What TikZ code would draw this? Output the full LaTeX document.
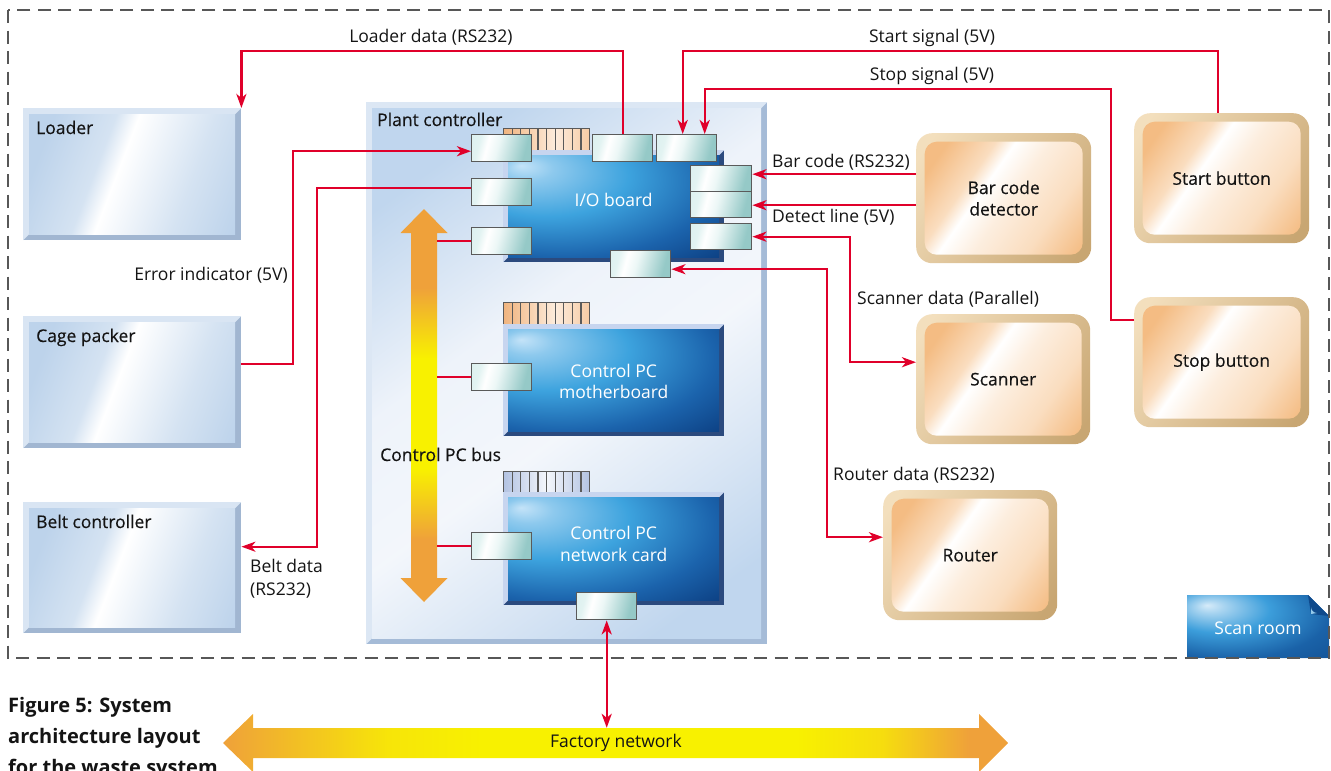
\documentclass[tikz,border=0pt]{standalone}
\usepackage{fontspec}
\setmainfont{Open Sans}
\newfontfamily\medfont[FakeBold=0.35]{Open Sans}
\usetikzlibrary{arrows.meta,calc}

\definecolor{sigred}{HTML}{E0002A}
\definecolor{rimgray}{HTML}{5A5A5A}
\definecolor{dashgray}{HTML}{575757}
\definecolor{inkblack}{HTML}{141414}
% light blue device boxes
\definecolor{bxLight}{HTML}{D9E5F3}
\definecolor{bxDark}{HTML}{A1B6D1}
\definecolor{bxA}{HTML}{BDD3EB}
\definecolor{bxB}{HTML}{D5E3F2}
% plant controller
\definecolor{pcLight}{HTML}{DCE7F4}
\definecolor{pcDark}{HTML}{A5BBD7}
\definecolor{pcA}{HTML}{C0D6EE}
\definecolor{pcB}{HTML}{EEF3FA}
% boards
\definecolor{brLight}{HTML}{C7D5EF}
\definecolor{brDark}{HTML}{2B4A7E}
\definecolor{brA}{HTML}{C4E3F8}
\definecolor{brB}{HTML}{3DA3DE}
\definecolor{brC}{HTML}{1B63AC}
\definecolor{brD}{HTML}{0A3A7C}
% tan units
\definecolor{tanA}{HTML}{F3DFBD}
\definecolor{tanB}{HTML}{C8A672}
\definecolor{orA}{HTML}{F4BC83}
\definecolor{orB}{HTML}{FADDBF}
% ports and connector combs
\definecolor{ptA}{HTML}{D0EBE9}
\definecolor{ptB}{HTML}{95C9C7}
\definecolor{cmA}{HTML}{F0B47F}
\definecolor{cmB}{HTML}{FDECDC}
\definecolor{cgA}{HTML}{B3C3E2}
\definecolor{cgB}{HTML}{F4F6FB}
% bus arrows
\definecolor{busOr}{HTML}{EFA13A}
\definecolor{busYe}{HTML}{F8F100}
% scan room tag
\definecolor{scA}{HTML}{D6EBF9}
\definecolor{scB}{HTML}{3C9EDB}
\definecolor{scC}{HTML}{1A62A8}
\definecolor{scD}{HTML}{0F4A8C}

\pgfdeclarehorizontalshading{glossblue}{100bp}{color(0bp)=(bxA); color(24bp)=(bxA); color(40bp)=(bxB); color(46bp)=(white); color(52bp)=(white!70!bxB); color(66bp)=(bxB); color(82bp)=(bxA); color(100bp)=(bxA)}
\pgfdeclarehorizontalshading{glosspc}{100bp}{color(0bp)=(pcA); color(24bp)=(pcA); color(42bp)=(pcB); color(55bp)=(pcB!70!white); color(68bp)=(pcB!50!pcA); color(78bp)=(pcA); color(100bp)=(pcA)}
\pgfdeclarehorizontalshading{glosstan}{100bp}{color(0bp)=(orA); color(22bp)=(orA); color(36bp)=(orB); color(42bp)=(white); color(52bp)=(orB!50!white); color(68bp)=(orB); color(84bp)=(orA); color(100bp)=(orA)}
\pgfdeclarehorizontalshading{tanframe}{100bp}{color(0bp)=(tanA); color(20bp)=(tanA); color(80bp)=(tanB); color(100bp)=(tanB)}
\pgfdeclarehorizontalshading{glossport}{100bp}{color(0bp)=(ptA); color(28bp)=(ptA!60!white); color(36bp)=(white); color(46bp)=(ptA!40!white); color(72bp)=(ptB); color(100bp)=(ptB)}
\pgfdeclarehorizontalshading{combor}{100bp}{color(0bp)=(cmA); color(25bp)=(cmA); color(55bp)=(cmB); color(75bp)=(cmA!60!cmB); color(100bp)=(cmA!60!cmB)}
\pgfdeclarehorizontalshading{combgr}{100bp}{color(0bp)=(cgA); color(25bp)=(cgA); color(50bp)=(cgB); color(75bp)=(cgA); color(100bp)=(cgA)}
\pgfdeclareverticalshading{busv}{100bp}{color(0bp)=(busOr); color(33bp)=(busOr); color(42bp)=(busYe); color(56bp)=(busYe); color(65bp)=(busOr); color(100bp)=(busOr)}
\pgfdeclarehorizontalshading{factoryh}{100bp}{color(0bp)=(busOr); color(25bp)=(busOr); color(30bp)=(busOr!60!busYe); color(35.5bp)=(busYe!85!busOr); color(41.5bp)=(busYe); color(61.5bp)=(busYe); color(67bp)=(busYe!75!busOr); color(72.5bp)=(busOr); color(100bp)=(busOr)}
\pgfdeclareradialshading{boardrad}{\pgfpoint{-22bp}{20bp}}{color(0bp)=(brA); color(6bp)=(brA!60!brB); color(20bp)=(brB); color(36bp)=(brC); color(50bp)=(brD); color(80bp)=(brD)}
\pgfdeclareradialshading{scanrad}{\pgfpoint{-18bp}{17bp}}{color(0bp)=(scA); color(5bp)=(scA!70!scB); color(18bp)=(scB); color(35bp)=(scC); color(55bp)=(scD); color(80bp)=(scD)}

\begin{document}
\begin{tikzpicture}[x=1pt, y=-1pt,
  >={Stealth[length=14pt, width=10pt, inset=4pt]},
  lbl/.style={font=\fontsize{17.5}{21}\selectfont, inner sep=0pt, text=inkblack},
  ttl/.style={font=\medfont\fontsize{17.5}{21}\selectfont, inner sep=0pt, text=inkblack},
  capt/.style={font=\bfseries\fontsize{20}{22}\selectfont, text=inkblack, inner sep=0pt, anchor=base west},
  sig/.style={draw=sigred, line width=2.4pt},
  bevel/.style n args={5}{rectangle, inner sep=0pt, anchor=north west,
    path picture={
      \coordinate (bbSW) at (path picture bounding box.south west);
      \coordinate (bbNE) at (path picture bounding box.north east);
      \coordinate (bbNW) at (path picture bounding box.north west);
      \fill[#2] (bbSW) rectangle (bbNE);
      \fill[#1] (bbSW) -- (bbNW) -- (bbNE) -- ([shift={(-#3,-#3)}]bbNE)
        -- ([shift={(#3,-#3)}]bbNW) -- ([shift={(#3,#3)}]bbSW) -- cycle;
      \shade[shading=#4, shading angle=#5] ([shift={(#3,#3)}]bbSW) rectangle ([shift={(-#3,-#3)}]bbNE);
    }},
  devbox/.style={bevel={bxLight}{bxDark}{6pt}{glossblue}{-21}, minimum width=218pt, minimum height=132pt},
  board/.style={bevel={brLight}{brDark}{5pt}{boardrad}{0}, minimum width=221pt, minimum height=112pt},
  boardtext/.style={text=white, font=\fontsize{17.5}{21.5}\selectfont, align=center, inner sep=0pt},
  port/.style={rectangle, inner sep=0pt, anchor=north west, minimum width=60pt, minimum height=27pt,
    shade, shading=glossport, shading angle=-15, draw=rimgray, line width=1.4pt},
  comb/.style={rectangle, inner sep=0pt, anchor=north west, minimum width=86pt, minimum height=22pt,
    shade, shading=#1, draw=rimgray, line width=1.2pt,
    path picture={
      \coordinate (bbSW) at (path picture bounding box.south west);
      \coordinate (bbSE) at (path picture bounding box.south east);
      \coordinate (bbNW) at (path picture bounding box.north west);
      \coordinate (bbNE) at (path picture bounding box.north east);
      \foreach \k in {1,...,9}{\draw[rimgray, line width=1.2pt] ($(bbSW)!\k/10!(bbSE)$) -- ($(bbNW)!\k/10!(bbNE)$);}
    }},
  unit/.style={rectangle, rounded corners=16pt, inner sep=0pt, anchor=north west,
    minimum width=174pt, minimum height=130pt, shade, shading=tanframe, shading angle=-35,
    font=\medfont\fontsize{17.5}{21.5}\selectfont, text=inkblack, align=center,
    path picture={
      \coordinate (bbSW) at (path picture bounding box.south west);
      \coordinate (bbNE) at (path picture bounding box.north east);
      \shade[shading=glosstan, shading angle=-35, rounded corners=12pt]
        ([shift={(8.5pt,8.5pt)}]bbSW) rectangle ([shift={(-8.5pt,-8.5pt)}]bbNE);
    }},
]
\useasboundingbox (0,0) rectangle (1331,771);

% ---------- equipment on the left ----------
\node[devbox] (loader) at (23,108) {};
\node[devbox] (cage)   at (23,316) {};
\node[devbox, minimum height=131pt] (belt) at (23,502) {};

% ---------- plant controller ----------
\node[bevel={pcLight}{pcDark}{6pt}{glosspc}{-54}, minimum width=401pt, minimum height=542pt] (plant) at (366,102) {};

% control PC bus
\shade[shading=busv] (424,209) -- (447.5,233) -- (437,233) -- (437,578) -- (447.5,578)
  -- (424,602) -- (400.5,578) -- (411,578) -- (411,233) -- (400.5,233) -- cycle;
\node[inner sep=0pt, minimum width=26pt, minimum height=345pt] (bus) at (424,405.5) {};

% edge connectors of the cards
\node[comb=combor] (comb1) at (503,128) {};
\node[comb=combor] (comb2) at (503,302) {};
\node[comb=combgr] (comb3) at (503,471) {};

% cards
\node[board] (io) at (503,150) {};
\node[board] (mb) at (503,324) {};
\node[board, minimum height=113pt] (nc) at (503,492) {};
\node[boardtext] (ioT) at ([yshift=6pt]io.center) {I/O board};
\node[boardtext] (mbT) at ([yshift=-1pt]mb.center) {Control PC\\motherboard};
\node[boardtext] (ncT) at ([yshift=5pt]nc.center) {Control PC\\network card};

% ports
\node[port] (p1)  at (471,134) {};
\node[port] (p2)  at (471,178) {};
\node[port] (p3)  at (471,227) {};
\node[port] (p4)  at (592,134) {};
\node[port] (p5)  at (656,134) {};
\node[port, minimum width=61pt, minimum height=26pt] (p6) at (690,165) {};
\node[port, minimum width=61pt, minimum height=26pt] (p7) at (690,191) {};
\node[port, minimum width=61pt, minimum height=26pt] (p8) at (690,223) {};
\node[port] (p9)  at (610,250) {};
\node[port] (p10) at (471,363) {};
\node[port] (p11) at (471,532) {};
\node[port] (p12) at (576,592) {};

% ---------- units on the right ----------
\node[unit, minimum width=175pt] (bcd) at (916,133) {Bar code\\detector};
\node[unit, minimum width=175pt] (start) at (1134,113) {Start button};
\node[unit, minimum width=175pt] (stop) at (1134,297) {Stop button};
\node[unit] (scanner) at (916,314) {Scanner};
\node[unit] (router) at (883,490) {Router};

% ---------- scan room tag ----------
\shade[shading=scanrad] (1187,595) -- (1308,595) -- (1329,616) -- (1329,658) -- (1187,658) -- cycle;
\fill[scD] (1308,595) -- (1329,616) -- (1311,614) -- cycle;
\fill[scB!55!white] (1311,614) -- (1311,607) arc[start angle=180, end angle=270, radius=6pt] -- cycle;
\node[font=\fontsize{17.5}{21}\selectfont, text=white, inner sep=0pt] (scanT) at (1258,628) {Scan room};

% ---------- factory network ----------
\shade[shading=factoryh] (223,743) -- (253,714) -- (253,728) -- (979,728) -- (979,714) -- (1008,743)
  -- (979,772) -- (979,758) -- (253,758) -- (253,772) -- cycle;
\node[lbl, minimum width=726pt, minimum height=30pt] (fnet) at (616,743) {Factory network};

% scan room boundary
\draw[dashgray, line width=2pt, dash pattern=on 13pt off 7.5pt] (8,10) rectangle (1329,658);

% ---------- signal lines ----------
\coordinate (runTop) at (0,51);
\coordinate (runStop) at (1111,89);
\coordinate (runErr) at (293,300);
\coordinate (runBelt) at (317,300);
\coordinate (runScan) at (850,300);
\coordinate (runRout) at (827,400);
\coordinate (startOut) at ([xshift=-4pt]start.north);
\coordinate (p5a) at ([xshift=-4pt]p5.north);
\coordinate (p5b) at ([xshift=18pt]p5.north);
\coordinate (p1in) at ([yshift=-3pt]p1.west);
\coordinate (bcA) at ([yshift=24pt]bcd.west);
\coordinate (bcB) at ([yshift=-7pt]bcd.west);

\draw[sig,->] (p4.north) -- (p4.north |- runTop) -| (loader.north east);
\draw[sig,->] (startOut) -- (startOut |- runTop) -| (p5a);
\draw[sig,->] ([yshift=42pt]stop.west) -| (runStop) -| (p5b);
\draw[sig,->] (bcA) -- (p6.east |- bcA);
\draw[sig,->] (bcB) -- (p7.east |- bcB);
\draw[sig,<->] (p8.east) -| (runScan) |- ([yshift=17pt]scanner.west);
\draw[sig,<->] ([yshift=-5pt]p9.east) -| (runRout) |- ([yshift=18pt]router.west);
\draw[sig,->] ([yshift=18pt]cage.east) -| (runErr |- p1in) -- (p1in);
\draw[sig,->] ([yshift=4pt]p2.west) -| (runBelt) |- ([yshift=21pt]belt.east);
\draw[sig] (bus.east |- p3.west) -- (p3.west);
\draw[sig] (bus.east |- p10.west) -- (p10.west);
\draw[sig] (bus.east |- p11.west) -- (p11.west);
\draw[sig,<->] (p12.south) -- (p12.south |- fnet.north);

% ---------- labels ----------
\node[ttl, anchor=base west] (loaderT) at ([shift={(13pt,-26pt)}]loader.north west) {Loader};
\node[ttl, anchor=base west] (cageT) at ([shift={(13pt,-26pt)}]cage.north west) {Cage packer};
\node[ttl, anchor=base west] (beltT) at ([shift={(13pt,-26pt)}]belt.north west) {Belt controller};
\node[ttl, anchor=base west] (plantT) at ([shift={(11pt,-24pt)}]plant.north west) {Plant controller};
\node[ttl, anchor=base west] (busT) at (380,461) {Control PC bus};

\node[lbl, anchor=base] (ldT) at (431,42) {Loader data (RS232)};
\node[lbl, anchor=base] (ssT) at (932,42) {Start signal (5V)};
\node[lbl, anchor=base] (spT) at (932,80) {Stop signal (5V)};
\node[lbl, anchor=base west] (bcT) at (772,167) {Bar code (RS232)};
\node[lbl, anchor=base west] (dlT) at (772,222) {Detect line (5V)};
\node[lbl, anchor=base west] (sdT) at (857,304) {Scanner data (Parallel)};
\node[lbl, anchor=base west] (rdT) at (833,480) {Router data (RS232)};
\node[lbl, anchor=base east] (eiT) at (288,280) {Error indicator (5V)};
\node[lbl, anchor=base west] (bdT1) at (250,572) {Belt data};
\node[lbl, anchor=base west] (bdT2) at (250,595) {(RS232)};

% caption
\node[capt] (cap1) at (8,712) {Figure 5: System};
\node[capt] (cap2) at (8,743) {architecture layout};
\node[capt] (cap3) at (8,774) {for the waste system};
\end{tikzpicture}
\end{document}
